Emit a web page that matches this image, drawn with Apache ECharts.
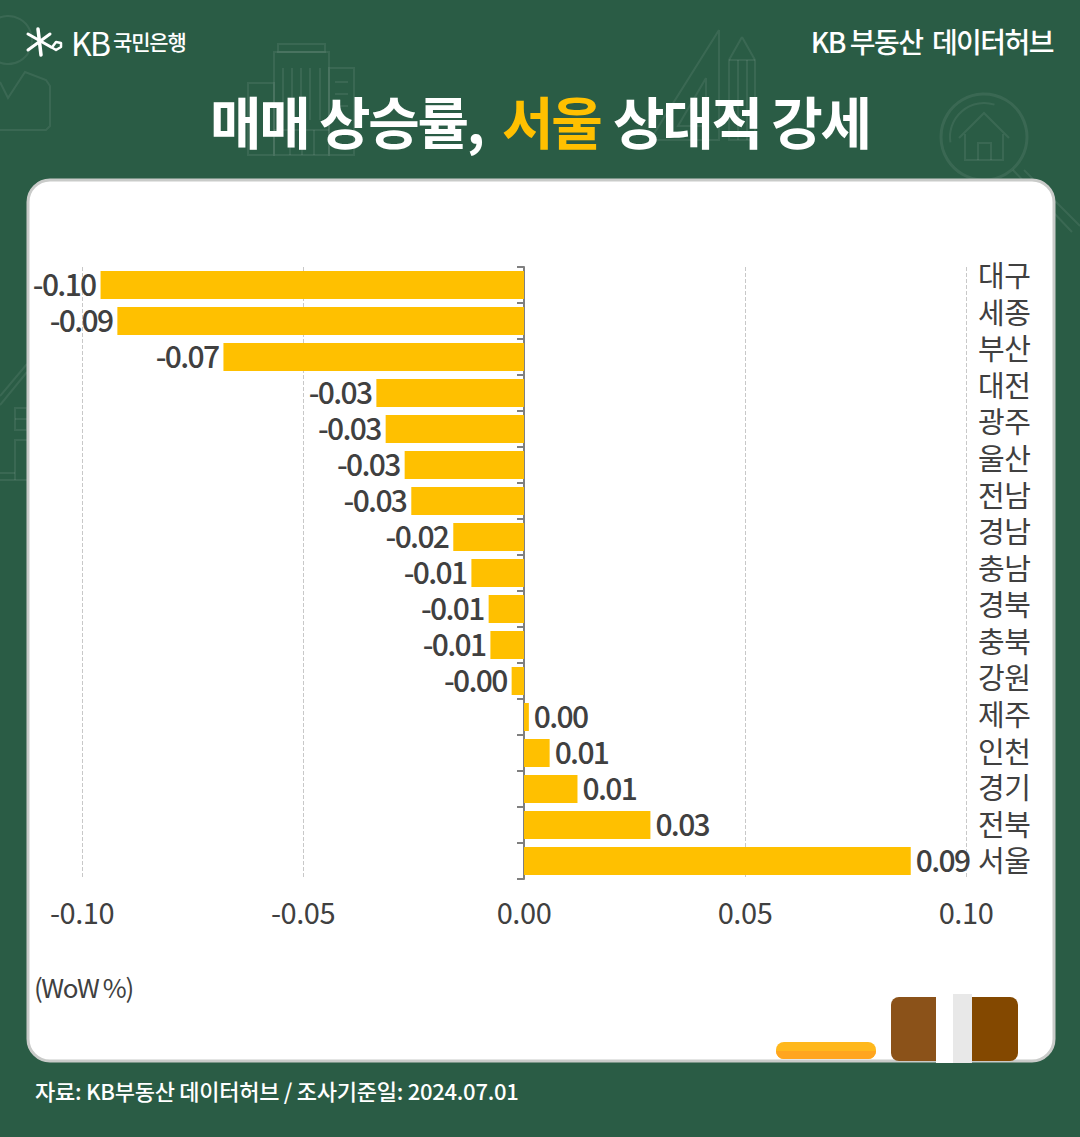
<!DOCTYPE html>
<html>
<head>
<meta charset="utf-8">
<style>
html, body { margin: 0; padding: 0; background: #2a5c45; }
#chart { width: 1080px; height: 1137px; }
/* tight tracking, the original artwork uses condensed Korean type */
svg text { letter-spacing: -0.055em; }
svg text[style*="56px"] { letter-spacing: -0.04em; }
svg text[style*="29px"] { letter-spacing: -0.015em; }
svg text[style*="22px"] { letter-spacing: -0.012em; }
</style>
<script src="https://cdn.jsdelivr.net/npm/echarts@6/dist/echarts.min.js"></script>
</head>
<body>
<div id="chart"></div>
<script>
const regions = ['대구', '세종', '부산', '대전', '광주', '울산', '전남', '경남', '충남', '경북', '충북', '강원', '제주', '인천', '경기', '전북', '서울'];
const wowChange = [-0.0958, -0.092, -0.068, -0.0334, -0.0313, -0.027, -0.0255, -0.016, -0.0119, -0.008, -0.0076, -0.0028, 0.0011, 0.0058, 0.0121, 0.0286, 0.0875];
const xTicks = [-0.1, -0.05, 0, 0.05, 0.1];

const FONT = '"Noto Sans CJK KR", "Noto Sans", sans-serif';
const GREEN = '#2a5c45';
const YELLOW = '#ffc000';
const INK = '#404040';
const FAINT = 'rgba(255,255,255,0.08)';

function outline(shapeType, shape, width) {
  return { type: shapeType, shape: shape, silent: true, style: { fill: 'none', stroke: FAINT, lineWidth: width || 2 } };
}
function line(points) {
  return outline('polyline', { points: points });
}
function box(x, y, w, h, r) {
  return { type: 'rect', silent: true, shape: { x: x, y: y, width: w, height: h, r: r || 0 }, style: { fill: 'none', stroke: FAINT, lineWidth: 2 } };
}
function solid(x, y, w, h, r, fill) {
  return { type: 'rect', silent: true, shape: { x: x, y: y, width: w, height: h, r: r }, style: { fill: fill } };
}
function label(text, x, y, size, weight, color, align) {
  return {
    type: 'text', silent: true, x: x, y: y,
    style: { text: text, font: weight + ' ' + size + 'px ' + FONT, fill: color, align: align || 'left', verticalAlign: 'middle' }
  };
}

// faint line icons behind the card
const decor = [
  outline('circle', { cx: 8, cy: 40, r: 24 }),
  line([[0, 82], [8, 98], [25, 72], [46, 80], [50, 86], [50, 126], [46, 130], [0, 130]]),
  // buildings
  box(278, 44, 47, 8), box(274, 52, 55, 103), box(248, 83, 26, 72), box(329, 68, 25, 87),
  line([[290, 130], [290, 155]]), line([[302, 130], [302, 155]]), line([[314, 130], [314, 155]]), line([[274, 130], [329, 130]]),
  line([[283, 68], [283, 120]]), line([[292, 68], [292, 120]]), line([[301, 68], [301, 120]]), line([[310, 68], [310, 120]]), line([[320, 68], [320, 120]]),
  line([[335, 82], [348, 82]]), line([[335, 94], [348, 94]]), line([[335, 106], [348, 106]]), line([[335, 118], [348, 118]]),
  // ruler and pencil
  line([[719, 30], [650, 140], [719, 140], [719, 30]]),
  line([[706, 78], [678, 126], [706, 126], [706, 78]]),
  line([[742, 37], [729, 60], [729, 140], [755, 140], [755, 60], [742, 37]]),
  line([[729, 60], [755, 60]]), line([[738, 60], [738, 140]]), line([[747, 60], [747, 140]]),
  // magnifier with house
  outline('circle', { cx: 984, cy: 137, r: 43 }, 3),
  outline('arc', { cx: 984, cy: 137, r: 34, startAngle: Math.PI * 0.95, endAngle: Math.PI * 1.6 }),
  line([[1013, 170], [1072, 232]]), line([[1024, 170], [1080, 226]]),
  line([[959, 138], [984, 113], [1009, 138]]),
  line([[965, 134], [965, 160], [1003, 160], [1003, 134]]),
  line([[978, 160], [978, 143], [991, 143], [991, 160]]),
  // house on the left edge
  line([[0, 405], [27, 372]]), line([[0, 396], [27, 364]]),
  box(15, 408, 12, 22), line([[15, 419], [27, 419]]),
  line([[27, 440], [15, 440], [15, 480]]), line([[0, 473], [15, 473]]), line([[0, 480], [27, 480]])
];

// KB star mark, drawn as strokes
function logoStroke(points, width) {
  return { type: 'polyline', silent: true, shape: { points: points }, style: { fill: 'none', stroke: '#fff', lineWidth: width, lineCap: 'round', lineJoin: 'round' } };
}
const logo = [
  logoStroke([[38, 29], [41, 55]], 3.5),
  logoStroke([[28, 34], [51, 47]], 3),
  logoStroke([[28, 50], [50, 34]], 3),
  logoStroke([[51, 47], [56, 50], [61, 47], [61, 43], [56, 42], [53, 46]], 2.5)
];

const bookParts = [
  solid(776, 1042, 100, 17, 8, '#ffb81c'),
  { type: 'rect', silent: true, shape: { x: 776, y: 1051, width: 100, height: 8, r: [0, 0, 8, 8] }, style: { fill: '#ffa51f' } },
  { type: 'rect', silent: true, shape: { x: 891, y: 997, width: 45, height: 64, r: [8, 0, 0, 8] }, style: { fill: '#8b5219' } },
  { type: 'rect', silent: true, shape: { x: 972, y: 997, width: 46, height: 64, r: [0, 8, 8, 0] }, style: { fill: '#834800' } },
  solid(936, 994, 17, 69, 0, '#ffffff'),
  solid(953, 994, 19, 69, 0, '#e8e8e8')
];

const chart = echarts.init(document.getElementById('chart'), null, { renderer: 'svg' });

chart.setOption({
  animation: false,
  backgroundColor: GREEN,
  textStyle: { fontFamily: FONT },
  graphic: {
    elements: [].concat(
      decor,
      [{ type: 'rect', silent: true, shape: { x: 28, y: 180, width: 1026, height: 881, r: 22 }, style: { fill: '#fff', stroke: '#c9cbc9', lineWidth: 3 } }],
      bookParts,
      logo,
      [
        label('KB', 71, 42, 32, 400, '#fff'),
        label('국민은행', 113, 41, 21, 500, '#fff'),
        label('KB 부동산  데이터허브', 1053, 41, 28, 500, '#fff', 'right'),
        label('매매 상승률,', 210, 119, 56, 700, '#fff'),
        label('서울', 502, 119, 56, 700, YELLOW),
        label('상대적 강세', 613, 119, 56, 700, '#fff'),
        label('(WoW %)', 34, 986, 26, 400, INK),
        label('자료: KB부동산 데이터허브 / 조사기준일: 2024.07.01', 35, 1090, 22, 500, '#fff')
      ]
    )
  },
  grid: [
    { left: 82, right: 114, top: 267, height: 612 },
    // region names run on a slightly wider pitch than the bars
    { left: 82, right: 114, top: 255.7, height: 622 }
  ],
  xAxis: [
    {
      type: 'value',
      min: xTicks[0],
      max: xTicks[xTicks.length - 1],
      interval: 0.05,
      axisLine: { show: false },
      axisTick: { show: false },
      axisLabel: { fontSize: 29, color: INK, margin: 17, formatter: v => v.toFixed(2) },
      splitLine: { show: true, lineStyle: { type: 'dashed', color: '#c8c8c8', width: 1 } }
    },
    { type: 'value', gridIndex: 1, min: xTicks[0], max: xTicks[xTicks.length - 1], show: false }
  ],
  yAxis: [
    {
      type: 'category',
      data: regions,
      inverse: true,
      axisLine: { onZero: true, lineStyle: { color: '#7f7f7f', width: 2 } },
      axisTick: { show: true, length: 7, lineStyle: { color: '#7f7f7f', width: 2 } },
      axisLabel: { show: false }
    },
    {
      type: 'category',
      gridIndex: 1,
      data: regions,
      inverse: true,
      position: 'right',
      axisLine: { show: false, onZero: false },
      axisTick: { show: false },
      axisLabel: { interval: 0, fontSize: 29, color: INK, margin: 12, fontWeight: 400, lineHeight: 30 }
    }
  ],
  series: [
    {
      type: 'bar',
      data: wowChange,
      barWidth: 28,
      itemStyle: { color: YELLOW },
      label: {
        show: true,
        position: 'outside',
        distance: 5,
        offset: [0, -2],
        fontSize: 30,
        lineHeight: 30,
        fontWeight: 500,
        color: INK,
        formatter: p => p.value.toFixed(2)
      }
    }
  ]
});
</script>
</body>
</html>
